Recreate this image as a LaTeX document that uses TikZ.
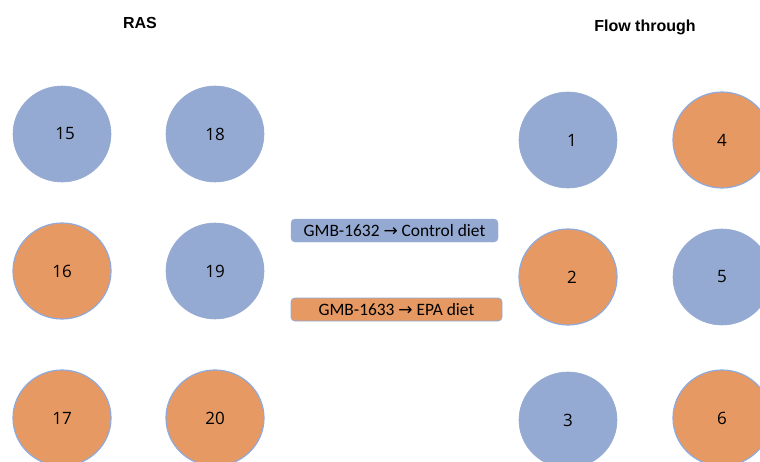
\documentclass[tikz,border=0pt]{standalone}
\usepackage{fontspec}
\setmainfont{Open Sans}
\newfontfamily\titlefont{Liberation Sans}
\newfontfamily\boxfont{Carlito}
\newfontfamily\arrowfont{DejaVu Sans}
\usetikzlibrary{shapes.geometric}
\definecolor{cblue}{HTML}{95AAD3}
\definecolor{corange}{HTML}{E69962}
\definecolor{cedge}{HTML}{8FAADC}
\tikzset{
  tank/.style={ellipse, minimum width=98pt, minimum height=96pt, inner sep=0pt, font=\fontsize{17}{19}\selectfont, text=black},
  bt/.style={tank, fill=cblue, draw=cblue, line width=0.6pt},
  ot/.style={tank, fill=corange, draw=cedge, line width=1.2pt},
  title/.style={font=\titlefont\bfseries\fontsize{16}{18}\selectfont},
  legend/.style={rounded corners=4pt, minimum height=23pt, inner sep=0pt, font=\boxfont\fontsize{17.4}{19}\selectfont, text=black}
}
\begin{document}
\begin{tikzpicture}[x=1pt,y=-1pt]
\useasboundingbox (0,0) rectangle (760,461);
\fill[white] (0,0) rectangle (760,461);
\clip (0,0) rectangle (760,461);
\node[title] (ras) at (140,23) {RAS};
\node[title] (flow) at (645,27) {Flow through};
\node[bt] (t15) at (62,134) {\hspace{6pt}15};
\node[bt] (t18) at (215,134) {18};
\node[ot] (t16) at (62,271) {16};
\node[bt] (t19) at (215,271) {19};
\node[ot] (t17) at (62,418) {17};
\node[ot] (t20) at (215,418) {20};
\node[bt] (t1) at (568,140) {\hspace{8pt}1};
\node[ot] (t4) at (722,140) {4\hspace{4pt}};
\node[ot] (t2) at (568,277) {\hspace{8pt}2};
\node[bt] (t5) at (722,277) {5\hspace{4pt}};
\node[bt] (t3) at (568,420) {\raisebox{-4pt}{3}\hspace{6pt}};
\node[ot] (t6) at (722,418) {6\hspace{4pt}};
\node[legend, fill=cblue, draw=cblue, minimum width=207pt] (lc) at (394.5,230.5) {GMB-1632 {\arrowfont\fontsize{17}{18}\selectfont →} Control diet};
\node[legend, fill=corange, draw=cedge, line width=0.8pt, minimum width=211pt] (le) at (396.5,309.5) {GMB-1633 {\arrowfont\fontsize{17}{18}\selectfont →} EPA diet};
\end{tikzpicture}
\end{document}
